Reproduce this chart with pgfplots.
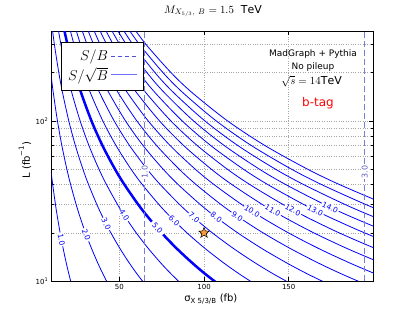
\documentclass[border=0pt]{standalone}
\usepackage{pgfplots}
\pgfplotsset{compat=1.18}
\usepackage{pgfplotstable}
\usepackage{fontspec}
\setmainfont{DejaVu Sans}

\definecolor{cblue}{RGB}{0,0,255}
\definecolor{sbcol}{RGB}{125,125,215}
\definecolor{sbtext}{RGB}{95,95,200}
\definecolor{legdash}{RGB}{80,80,215}
\definecolor{legsolid}{RGB}{110,110,255}
\definecolor{starcol}{RGB}{245,155,55}

\pgfplotsset{
  cline/.style={cblue, line width=0.8bp, smooth, forget plot},
}
\tikzset{
  clabel/.style={font=\fontsize{7.5}{8}\selectfont, text=cblue, fill=white, inner sep=1pt},
}

\pgfdeclareplotmark{fstar}{%
  \pgfpathmoveto{\pgfpointpolar{90}{\pgfplotmarksize}}%
  \pgfpathlineto{\pgfpointpolar{126}{0.42\pgfplotmarksize}}%
  \pgfpathlineto{\pgfpointpolar{162}{\pgfplotmarksize}}%
  \pgfpathlineto{\pgfpointpolar{198}{0.42\pgfplotmarksize}}%
  \pgfpathlineto{\pgfpointpolar{234}{\pgfplotmarksize}}%
  \pgfpathlineto{\pgfpointpolar{270}{0.42\pgfplotmarksize}}%
  \pgfpathlineto{\pgfpointpolar{306}{\pgfplotmarksize}}%
  \pgfpathlineto{\pgfpointpolar{342}{0.42\pgfplotmarksize}}%
  \pgfpathlineto{\pgfpointpolar{18}{\pgfplotmarksize}}%
  \pgfpathlineto{\pgfpointpolar{54}{0.42\pgfplotmarksize}}%
  \pgfpathclose
  \pgfusepathqfillstroke
}

% contour lines S/sqrt(B) = n : sigma values (fb) at given L (fb^-1)
\pgfplotstableread{
L s1 s2 s3 s4 s5 s6 s7 s8 s9 s10 s11 s12 s13 s14 s15 s16 s17
400 3.35 6.70 10.05 13.40 16.75 20.10 23.45 26.80 30.15 33.50 36.85 40.20 43.55 46.90 50.25 53.60 56.95
300 3.87 7.74 11.60 15.47 19.34 23.21 27.08 30.94 34.81 38.68 42.55 46.42 50.28 54.15 58.02 61.89 65.76
200 4.74 9.48 14.21 18.95 23.69 28.43 33.17 37.90 42.64 47.38 52.12 56.86 61.59 66.33 71.07 75.81 80.55
150 5.47 10.94 16.41 21.88 27.36 32.83 38.30 43.77 49.24 54.71 60.18 65.65 71.12 76.59 82.07 87.54 93.01
100 6.70 13.40 20.10 26.80 33.50 40.20 46.90 53.60 60.30 67.00 73.70 80.40 87.10 93.80 100.50 107.20 113.90
70 8.01 16.02 24.02 32.03 40.04 48.05 56.06 64.06 72.07 80.08 88.09 96.10 104.10 112.11 120.12 128.13 136.14
50 9.48 18.95 28.43 37.90 47.38 56.85 66.33 75.80 85.28 94.75 104.23 113.70 123.18 132.65 142.13 151.60 161.08
40 10.59 21.19 31.78 42.38 52.97 63.56 74.16 84.75 95.35 105.94 116.53 127.13 137.72 148.32 158.91 169.50 180.10
30 12.23 24.46 36.70 48.93 61.16 73.39 85.62 97.86 110.09 122.32 134.55 146.78 159.02 171.25 183.48 195.71 207.94
25 13.40 26.80 40.20 53.60 67.00 80.40 93.80 107.20 120.60 134.00 147.40 160.80 174.20 187.60 201.00 214.40 227.80
20 14.98 29.96 44.95 59.93 74.91 89.89 104.87 119.86 134.84 149.82 164.80 179.78 194.77 209.75 224.73 239.71 254.69
16 16.75 33.50 50.25 67.00 83.75 100.50 117.25 134.00 150.75 167.50 184.25 201.00 217.75 234.50 251.25 268.00 284.75
13 18.58 37.16 55.75 74.33 92.91 111.49 130.07 148.66 167.24 185.82 204.40 222.98 241.57 260.15 278.73 297.31 315.89
11 20.20 40.40 60.60 80.80 101.01 121.21 141.41 161.61 181.81 202.01 222.21 242.41 262.61 282.81 303.02 323.22 343.42
9 22.33 44.67 67.00 89.33 111.67 134.00 156.33 178.66 201.00 223.33 245.66 268.00 290.33 312.66 335.00 357.33 379.66
}\contours

\begin{document}
\begin{tikzpicture}
\path[use as bounding box] (-51.7bp,-31bp) rectangle (363.3bp,281bp);
\begin{axis}[
  at={(0,0)}, anchor=south west,
  scale only axis, width=321.6bp, height=249.5bp,
  xmin=10, xmax=200, ymode=log, ymin=10, ymax=362,
  xtick={50,100,150}, xticklabels={50,100,150},
  ytick={10,100}, yticklabels={10\textsuperscript{1},10\textsuperscript{2}},
  minor ytick={20,30,40,50,60,70,80,90,200,300},
  xmajorgrids, ymajorgrids, yminorgrids,
  major grid style={dotted, gray!70, line width=0.6pt},
  minor grid style={dotted, gray!70, line width=0.6pt},
  tick align=inside, major tick length=4bp, minor tick length=2bp,
  tick style={black, line width=0.5pt},
  axis line style={black, line width=0.8pt},
  ticklabel style={font=\fontsize{7}{8}\selectfont},
  xlabel={σ\textsubscript{X 5/3/B} (fb)},
  ylabel={L (fb\textsuperscript{−1})},
  xlabel style={at={(axis description cs:0.495,-0.072)}, anchor=center, font=\fontsize{10}{12}\selectfont},
  ylabel style={at={(axis description cs:-0.083,0.485)}, anchor=center, font=\fontsize{10}{12}\selectfont},
  title={$M_{X_{5/3},\ B} = 1.5\ \ \mathrm{TeV}$},
  title style={at={(axis description cs:0.5016,1.058)}, anchor=center, font=\fontsize{11}{13}\selectfont},
  legend style={at={(axis description cs:0.028,0.959)}, anchor=north west, draw=black, line width=0.8pt, fill=white, font=\fontsize{14}{16}\selectfont, inner xsep=5pt, inner ysep=6pt, row sep=1pt},
  legend plot pos=right, legend cell align=right,
  legend image code/.code={\draw[#1] (0cm,0cm) -- (0.95cm,0cm);},
]
\addlegendimage{legdash, dash pattern=on 4bp off 3bp, line width=1.2pt}
\addlegendentry{$S/B$}
\addlegendimage{legsolid, line width=1.2pt}
\addlegendentry{$S/\sqrt{B}$}

\pgfplotsinvokeforeach{1,2,3,4,6,7,8,9,10,11,12,13,14,15,16,17}{
  \addplot[cline] table[x=s#1, y=L] {\contours};
}
\addplot[cline, line width=2.5bp] table[x=s5, y=L] {\contours};

\addplot[sbcol, line width=1.3bp, dash pattern=on 6bp off 3bp, forget plot] coordinates {(65,10) (65,362)};
\addplot[sbcol, line width=1.3bp, dash pattern=on 6bp off 3bp, forget plot] coordinates {(195,10) (195,362)};

\node[clabel, rotate=-79.2] at (axis cs:15.7,18.2) {1.0};
\node[clabel, rotate=-69.7] at (axis cs:30.4,19.43) {2.0};
\node[clabel, rotate=-62.8] at (axis cs:42.2,22.7) {3.0};
\node[clabel, rotate=-57.2] at (axis cs:52.9,25.7) {4.0};
\node[clabel, rotate=-48.9, inner sep=2.5pt] at (axis cs:72.5,21.4) {5.0};
\node[clabel, rotate=-44.9] at (axis cs:82.4,23.8) {6.0};
\node[clabel, rotate=-41.1] at (axis cs:94.1,24.8) {7.0};
\node[clabel, rotate=-37.4] at (axis cs:107.2,25.0) {8.0};
\node[clabel, rotate=-34.5] at (axis cs:119.6,25.4) {9.0};
\node[clabel, rotate=-32.6] at (axis cs:128.4,27.2) {10.0};
\node[clabel, rotate=-30.3] at (axis cs:140.6,27.5) {11.0};
\node[clabel, rotate=-28.3] at (axis cs:152.5,27.8) {12.0};
\node[clabel, rotate=-26.4] at (axis cs:165.7,27.6) {13.0};
\node[clabel, rotate=-25.2] at (axis cs:174.5,28.9) {14.0};
\node[clabel, text=sbtext, rotate=90, font=\fontsize{8}{9}\selectfont] at (axis cs:65,48) {1.0};
\node[clabel, text=sbtext, rotate=90, font=\fontsize{8}{9}\selectfont] at (axis cs:195,48) {3.0};

\node[font=\fontsize{9}{10}\selectfont] at (rel axis cs:0.8125,0.910) {MadGraph + Pythia};
\node[font=\fontsize{9}{10}\selectfont] at (rel axis cs:0.8125,0.859) {No pileup};
\node[font=\fontsize{11}{12}\selectfont] at (rel axis cs:0.808,0.799) {$\sqrt{s} = 14\mathrm{TeV}$};
\node[font=\fontsize{12}{14}\selectfont, text=red] at (rel axis cs:0.828,0.712) {b-tag};

\addplot[only marks, mark=fstar, mark size=5.5bp, mark options={fill=starcol, draw=black, line width=0.5pt}, forget plot] coordinates {(100,20)};
\end{axis}
\end{tikzpicture}
\end{document}
